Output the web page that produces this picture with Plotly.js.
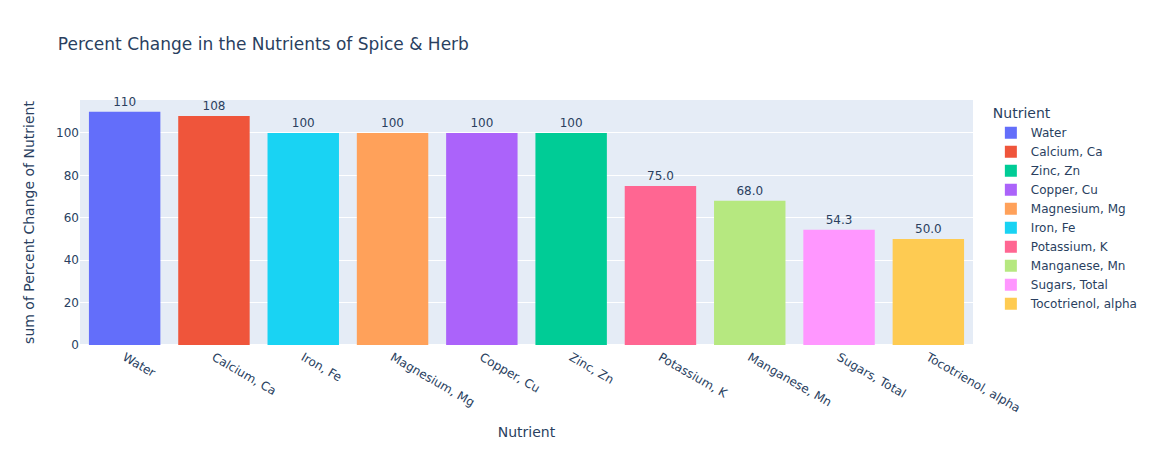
<!DOCTYPE html>
<html><head><meta charset="utf-8">
<script src="https://cdn.plot.ly/plotly-3.0.1.min.js"></script>
<style>body{margin:0}</style></head>
<body><div id="chart" style="width:1156px;height:450px"></div>
<script>
const nutrients = ["Water","Calcium, Ca","Zinc, Zn","Copper, Cu","Magnesium, Mg","Iron, Fe","Potassium, K","Manganese, Mn","Sugars, Total","Tocotrienol, alpha"];
const values = [110, 108, 100, 100, 100, 100, 75, 68, 54.3, 50];
const colors = ["#636efa","#EF553B","#00cc96","#ab63fa","#FFA15A","#19d3f3","#FF6692","#B6E880","#FF97FF","#FECB52"];
const xOrder = ["Water","Calcium, Ca","Iron, Fe","Magnesium, Mg","Copper, Cu","Zinc, Zn","Potassium, K","Manganese, Mn","Sugars, Total","Tocotrienol, alpha"];

const traces = nutrients.map((n, i) => ({
  type: "bar",
  name: n,
  x: [n],
  y: [values[i]],
  marker: {color: colors[i]},
  texttemplate: "%{y:.3s}",
  textposition: "outside",
  cliponaxis: false,
  offsetgroup: "1",
  showlegend: true
}));

const layout = {
  width: 1156, height: 450,
  barmode: "relative",
  font: {family: '"DejaVu Sans", verdana, arial, sans-serif', color: "#2a3f5f", size: 12},
  paper_bgcolor: "white",
  plot_bgcolor: "#E5ECF6",
  title: {text: "Percent Change in the Nutrients of Spice & Herb", x: 0.05, font: {size: 17}},
  margin: {t: 100, l: 80, r: 183, b: 105},
  legend: {title: {text: "Nutrient"}, tracegroupgap: 0},
  xaxis: {title: {text: "Nutrient", standoff: 12}, automargin: true, categoryorder: "array", categoryarray: xOrder, tickangle: 30, showgrid: false, linecolor: "white", ticks: ""},
  yaxis: {title: {text: "sum of Percent Change of Nutrient", standoff: 18}, automargin: false, gridcolor: "white", zerolinecolor: "white", zerolinewidth: 2, range: [0, 115.5], ticks: ""}
};
Plotly.newPlot("chart", traces, layout, {displayModeBar: false});
</script></body></html>
